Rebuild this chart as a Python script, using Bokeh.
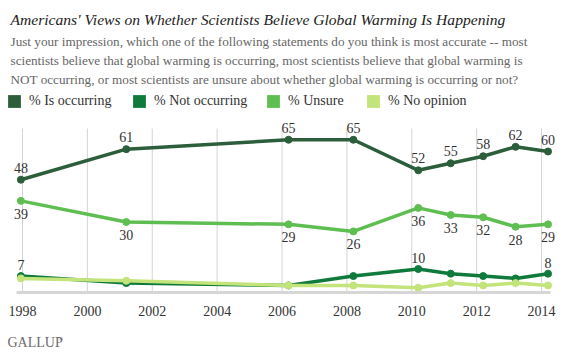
from bokeh.plotting import figure
from bokeh.models import Label, Legend, LegendItem, FixedTicker, ColumnDataSource, Range1d
from bokeh.core.properties import value
from bokeh.embed import file_html
from bokeh.resources import INLINE

# ---- data ----
years = [1997.95, 2001.2, 2006.2, 2008.2, 2010.2, 2011.2, 2012.2, 2013.2, 2014.2]
is_occurring = [48, 61, 65, 65, 52, 55, 58, 62, 60]
not_occurring = [7, 4, 3, 7, 10, 8, 7, 6, 8]
unsure = [39, 30, 29, 26, 36, 33, 32, 28, 29]
no_opinion = [6, 5, 3, 3, 2, 4, 3, 4, 3]
not_occurring_labeled = [0, 4, 8]
tick_years = [1998, 2000, 2002, 2004, 2006, 2008, 2010, 2012, 2014]
series_names = ["% Is occurring", "% Not occurring", "% Unsure", "% No opinion"]
colors = ["#2c5e3b", "#0f7a3c", "#5fbe51", "#c2e47a"]

title_text = "Americans' Views on Whether Scientists Believe Global Warming Is Happening"
subtitle_lines = [
    "Just your impression, which one of the following statements do you think is most accurate -- most",
    "scientists believe that global warming is occurring, most scientists believe that global warming is",
    "NOT occurring, or most scientists are unsure about whether global warming is occurring or not?",
]

# ---- layout constants (canvas pixels) ----
W, H = 563, 354
X1998, PX_PER_YEAR = 22, 32.44
Y0, PX_PER_PCT = 292, 2.35
GRID_TOP = 128
AXIS_LEFT, AXIS_RIGHT = 16, 550
LEGEND_X = [6, 131, 265, 365]
SERIF = "Liberation Serif"

def xdata(px):
    return 1998 + (px - X1998) / PX_PER_YEAR

def ydata(py):
    return (Y0 - py) / PX_PER_PCT

p = figure(
    width=W, height=H,
    x_range=Range1d(xdata(0), xdata(W)),
    y_range=Range1d(ydata(H), ydata(0)),
    output_backend="svg", toolbar_location=None,
    y_axis_location=None,
    min_border=0, min_border_left=0, min_border_right=0, min_border_top=0, min_border_bottom=0,
)
p.outline_line_color = None
p.background_fill_color = "white"
p.border_fill_color = "white"
p.xgrid.visible = False
p.ygrid.visible = False

# vertical grid lines
p.segment(x0=tick_years, x1=tick_years, y0=[0] * len(tick_years),
          y1=[ydata(GRID_TOP)] * len(tick_years), line_color="#d4d4d4", line_width=1)

ax = p.xaxis[0]
ax.fixed_location = 0
ax.bounds = (xdata(AXIS_LEFT), xdata(AXIS_RIGHT))
ax.ticker = FixedTicker(ticks=tick_years)
ax.axis_line_color = "#d6d6d6"
ax.axis_line_width = 3
ax.major_tick_line_color = None
ax.minor_tick_line_color = None
ax.major_label_standoff = 7
ax.major_label_text_font = SERIF
ax.major_label_text_font_size = "14px"
ax.major_label_text_color = "#333333"

series = [is_occurring, not_occurring, unsure, no_opinion]
for vals, c, name, lx in zip(series, colors, series_names, LEGEND_X):
    src = ColumnDataSource(dict(x=years, y=vals))
    p.line("x", "y", source=src, line_color=c, line_width=3.5)
    p.scatter("x", "y", source=src, size=7, fill_color=c, line_color=c)
    # zero-area quads on the data: invisible, but give the legend a square swatch
    sw = p.quad(left="x", right="x", bottom="y", top="y", source=src, fill_color=c, line_color=None)
    leg = Legend(items=[LegendItem(label=name, renderers=[sw])], orientation="horizontal",
                 location=(lx, H - 109), glyph_width=16, glyph_height=16, label_standoff=7,
                 padding=0, margin=0, border_line_color=None, background_fill_alpha=0,
                 label_text_font=SERIF, label_text_font_size="14px", label_text_color="#333333")
    p.add_layout(leg, "center")

def add_labels(idx, vals, offset):
    src = ColumnDataSource(dict(x=[years[i] for i in idx], y=[vals[i] for i in idx],
                                t=[str(vals[i]) for i in idx]))
    p.text("x", "y", text="t", source=src, y_offset=offset,
           text_align="center", text_baseline="middle",
           text_font=value(SERIF), text_font_size="14px", text_color="#333333")

all_idx = list(range(len(years)))
add_labels(all_idx, is_occurring, -12)
add_labels(all_idx, unsure, 13)
add_labels(not_occurring_labeled, not_occurring, -11)

def canvas_label(text, cx, cy, size, color, style="normal", font=SERIF, baseline="alphabetic"):
    p.add_layout(Label(x=cx, y=H - cy, x_units="screen", y_units="screen",
                       text=text, text_font=font, text_font_size=size, text_color=color,
                       text_font_style=style, text_baseline=baseline, text_align="left"))

canvas_label(title_text, 10, 19, "15.6px", "#222222", style="italic")
for i, line in enumerate(subtitle_lines):
    canvas_label(line, 10, 41 + 19 * i, "13.2px", "#666666")
canvas_label("GALLUP", 7, 342, "14px", "#6b6b6b", baseline="middle")
canvas_label("\u00ae", 58, 338, "6px", "#6b6b6b", baseline="middle")

open("out.html", "w").write(file_html(p, INLINE))
